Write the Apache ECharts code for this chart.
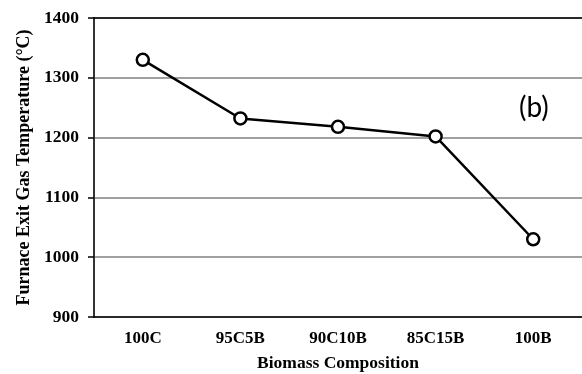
<!DOCTYPE html>
<html>
<head>
<meta charset="utf-8">
<script src="https://cdn.jsdelivr.net/npm/echarts@6/dist/echarts.min.js"></script>
<style>
  html, body { margin: 0; padding: 0; background: #fff; }
  #chart { width: 582px; height: 374px; }
</style>
</head>
<body>
<div id="chart"></div>
<script>
const categories = ['100C', '95C5B', '90C10B', '85C15B', '100B'];
const temperatures = [1330, 1232, 1218, 1202, 1030];
const yTicks = [900, 1000, 1100, 1200, 1300, 1400];

const serif = '"Liberation Serif", "Times New Roman", serif';
const myChart = echarts.init(document.getElementById('chart'));

myChart.setOption({
  animation: false,
  title: {
    text: '(b)',
    left: 514,
    top: 89,
    textStyle: {
      fontFamily: 'Lato, "Open Sans", sans-serif',
      fontWeight: 'normal',
      fontSize: 28,
      color: '#000'
    }
  },
  grid: {
    left: 94,
    right: 0,
    top: 18,
    bottom: 57,
    outerBoundsMode: 'none'
  },
  xAxis: [{
    type: 'category',
    data: categories,
    name: 'Biomass Composition',
    nameLocation: 'middle',
    nameGap: 37,
    nameTextStyle: {
      fontFamily: serif,
      fontWeight: 'bold',
      fontSize: 17.5,
      color: '#000'
    },
    axisLine: { lineStyle: { color: '#000', width: 1.5 } },
    axisTick: { show: false },
    axisLabel: {
      fontFamily: serif,
      fontWeight: 'bold',
      fontSize: 17,
      color: '#000',
      margin: 13
    }
  }, {
    // top border of the plot area
    type: 'category',
    data: categories,
    position: 'top',
    axisLine: { show: true, lineStyle: { color: '#000', width: 1.5 } },
    axisTick: { show: false },
    axisLabel: { show: false }
  }],
  yAxis: {
    type: 'value',
    position: 'left',
    min: yTicks[0],
    max: yTicks[yTicks.length - 1],
    interval: 100,
    name: 'Furnace Exit Gas Temperature (°C)',
    nameLocation: 'middle',
    nameGap: 60,
    nameTextStyle: {
      fontFamily: serif,
      fontWeight: 'bold',
      fontSize: 18,
      color: '#000'
    },
    axisLine: { show: true, lineStyle: { color: '#333', width: 2 } },
    axisTick: { show: true, inside: false, length: 6, lineStyle: { color: '#000', width: 1.5 } },
    axisLabel: {
      fontFamily: serif,
      fontWeight: 'bold',
      fontSize: 17.5,
      color: '#000',
      margin: 15,
      formatter: function (v) { return String(v); }
    },
    splitLine: { show: true, lineStyle: { color: '#808080', width: 1.5 } }
  },
  series: [{
    type: 'line',
    data: temperatures,
    symbol: 'circle',
    symbolSize: 12,
    lineStyle: { color: '#000', width: 2.5 },
    itemStyle: { color: '#fff', borderColor: '#000', borderWidth: 2.5 }
  }]
});
</script>
</body>
</html>
